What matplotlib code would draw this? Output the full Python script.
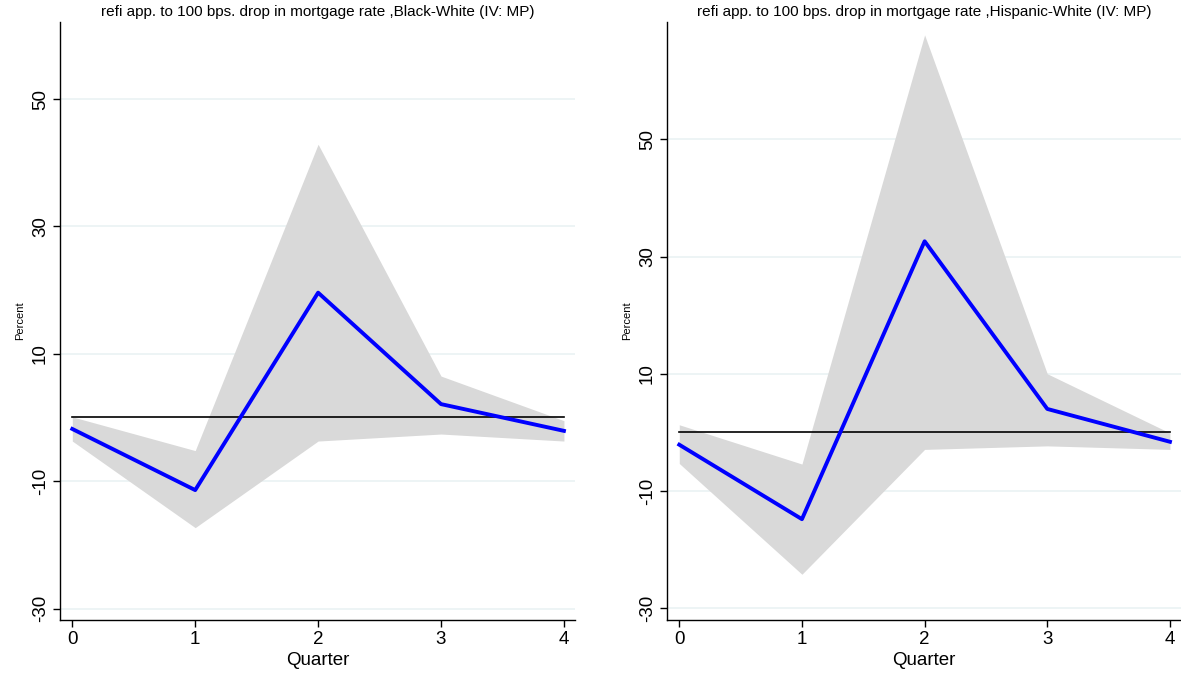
import matplotlib
matplotlib.use("Agg")
import matplotlib.pyplot as plt

plt.rcParams['font.family'] = ['Liberation Sans', 'DejaVu Sans']

quarters = [0, 1, 2, 3, 4]
yticks = [-30, -10, 10, 30, 50]

bw_title = "refi app. to 100 bps. drop in mortgage rate ,Black-White (IV: MP)"
bw_irf = [-1.8, -11.4, 19.6, 2.1, -2.1]
bw_upper = [0.1, -5.2, 42.9, 6.5, -0.5]
bw_lower = [-3.7, -17.3, -3.7, -2.6, -3.7]

hw_title = "refi app. to 100 bps. drop in mortgage rate ,Hispanic-White (IV: MP)"
hw_irf = [-2.1, -14.8, 32.6, 4.0, -1.6]
hw_upper = [1.3, -5.4, 67.8, 10.0, -0.1]
hw_lower = [-5.3, -24.2, -2.9, -2.3, -2.9]

fig = plt.figure(figsize=(11.81, 6.74), dpi=100)

panels = [
    (bw_title, bw_irf, bw_upper, bw_lower, [60/1181, 54/674, 515/1181, 598/674], (-31.8, 62.1)),
    (hw_title, hw_irf, hw_upper, hw_lower, [667/1181, 54/674, 514/1181, 598/674], (-32.0, 70.0)),
]

for title, irf, up, lo, rect, ylim in panels:
    ax = fig.add_axes(rect)
    ax.fill_between(quarters, lo, up, color='#d9d9d9', linewidth=0, zorder=1)
    ax.plot([quarters[0], quarters[-1]], [0, 0], color='black', linewidth=1.2, zorder=2)
    ax.plot(quarters, irf, color='#0000ff', linewidth=2.8, zorder=3)
    ax.set_xlim(-0.1, 4.09)
    ax.set_ylim(*ylim)
    ax.set_xticks(quarters)
    ax.set_yticks(yticks)
    ax.set_yticklabels([str(t) for t in yticks], rotation=90, va='center')
    ax.tick_params(axis='both', labelsize=13.5, length=5, width=1, direction='out', pad=3)
    ax.yaxis.grid(True, color='#eaf2f3', linewidth=1.2)
    ax.set_axisbelow(True)
    for s in ['top', 'right']:
        ax.spines[s].set_visible(False)
    for s in ['left', 'bottom']:
        ax.spines[s].set_linewidth(1.0)
    ax.set_xlabel('Quarter', fontsize=13.5, labelpad=3)
    ax.set_ylabel('Percent', fontsize=8, labelpad=5)
    ax.set_title(title, fontsize=11, pad=4)

fig.savefig('out.png', dpi=100)
